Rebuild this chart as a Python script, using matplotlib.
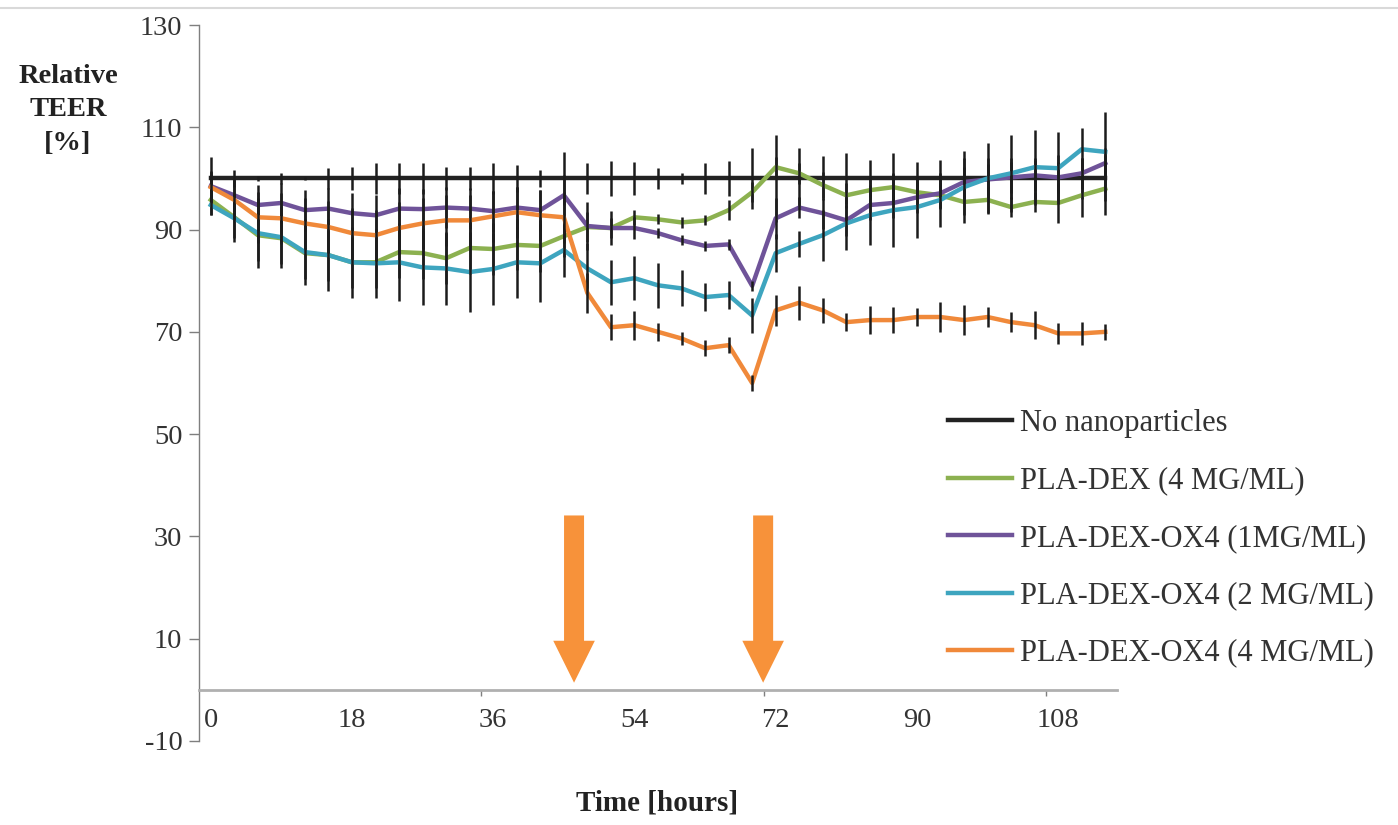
import matplotlib
matplotlib.use("Agg")
import matplotlib.pyplot as plt
from matplotlib.lines import Line2D

plt.rcParams['font.family'] = ['Liberation Serif', 'DejaVu Serif']

# ---------------- data ----------------
hours = [0, 3, 6, 9, 12, 15, 18, 21, 24, 27, 30, 33, 36, 39, 42, 45, 48, 51, 54, 57,
         60, 63, 66, 69, 72, 75, 78, 81, 84, 87, 90, 93, 96, 99, 102, 105, 108, 111, 114]

no_np = [100, 100, 100, 100, 100, 100, 100, 100, 100, 100, 100, 100, 100, 100, 100, 100,
         100, 100, 100, 100, 100, 100, 100, 100, 100, 100, 100, 100, 100, 100, 100, 100,
         100, 100, 100, 100, 100, 100, 100]
no_np_err = [4.2, 1.6, 0.5, 1.0, 0.3, 2.0, 2.2, 3.0, 3.0, 3.0, 2.2, 2.2, 3.0, 2.6, 1.6, 5.2,
             3.0, 3.5, 3.3, 2.0, 1.0, 3.0, 3.5, 6.0, 8.5, 6.0, 4.3, 5.0, 3.6, 5.0, 3.2, 3.6,
             4.0, 4.0, 4.0, 4.0, 4.5, 4.0, 4.5]

pla_dex_4 = [95.8, 92.4, 88.9, 88.3, 85.4, 85.0, 83.6, 83.6, 85.6, 85.4, 84.4, 86.4, 86.2,
             87.0, 86.8, 88.7, 90.5, 90.3, 92.4, 92.0, 91.4, 91.8, 93.8, 97.3, 102.2, 101.0,
             98.7, 96.7, 97.7, 98.3, 97.3, 96.7, 95.4, 95.8, 94.4, 95.4, 95.2, 96.7, 98.0]
pla_dex_4_err = [3.0, 4.0, 5.0, 5.0, 5.0, 5.0, 5.0, 5.0, 5.0, 5.0, 5.0, 5.0, 5.0, 5.0, 5.0,
                 4.0, 3.0, 2.0, 1.5, 1.0, 1.0, 1.0, 2.0, 2.0, 2.0, 2.0, 2.5, 2.5, 2.5, 2.5,
                 2.5, 2.5, 2.5, 2.5, 2.0, 2.0, 4.0, 4.3, 5.2]

ox4_1 = [98.5, 96.7, 94.8, 95.2, 93.8, 94.1, 93.2, 92.8, 94.1, 94.0, 94.3, 94.1, 93.6,
         94.3, 93.8, 96.7, 90.7, 90.3, 90.3, 89.3, 87.9, 86.8, 87.1, 79.0, 92.2, 94.3,
         93.2, 91.8, 94.8, 95.2, 96.3, 97.1, 99.3, 99.8, 100.2, 100.6, 100.2, 101.0, 103.0]
ox4_1_err = [3.0, 3.0, 4.0, 4.0, 4.0, 4.0, 4.0, 4.0, 4.0, 4.0, 4.0, 4.0, 4.0, 4.0, 4.0,
             4.0, 4.7, 3.3, 2.2, 1.0, 1.0, 1.0, 1.0, 1.0, 4.0, 2.0, 3.0, 3.0, 3.0, 3.0,
             3.0, 3.0, 3.0, 3.0, 3.0, 3.0, 3.0, 3.0, 3.0]

ox4_2 = [94.8, 92.2, 89.3, 88.5, 85.6, 85.0, 83.6, 83.4, 83.6, 82.6, 82.4, 81.7, 82.3,
         83.6, 83.4, 86.0, 82.4, 79.7, 80.5, 79.1, 78.5, 76.8, 77.2, 73.2, 85.4, 87.2,
         88.9, 91.2, 92.8, 93.8, 94.4, 95.8, 98.3, 100.0, 101.0, 102.2, 102.0, 105.7, 105.2]
ox4_2_err = [2.0, 4.7, 6.9, 6.1, 6.5, 7.0, 7.0, 6.8, 7.6, 7.4, 7.2, 7.9, 7.1, 7.0, 7.6,
             5.3, 5.0, 4.4, 4.3, 4.4, 3.5, 2.8, 2.8, 3.5, 3.7, 2.6, 5.0, 5.2, 5.9, 7.2,
             6.1, 5.3, 7.0, 7.0, 7.5, 7.3, 7.0, 4.1, 7.8]

ox4_4 = [98.3, 95.8, 92.4, 92.2, 91.2, 90.5, 89.3, 88.9, 90.3, 91.2, 91.8, 91.8, 92.6,
         93.4, 92.8, 92.4, 77.6, 70.9, 71.3, 70.0, 68.7, 66.8, 67.4, 60.0, 74.2, 75.7,
         74.2, 71.9, 72.3, 72.3, 72.9, 72.9, 72.3, 72.9, 71.9, 71.3, 69.7, 69.7, 70.0]
ox4_4_err = [3.0, 4.0, 5.0, 5.0, 5.0, 5.0, 5.0, 5.0, 5.0, 5.0, 5.0, 5.0, 5.0, 5.0, 5.0,
             5.0, 4.0, 2.5, 2.8, 1.7, 1.3, 1.6, 1.5, 1.5, 3.0, 3.3, 2.5, 1.8, 2.7, 2.5,
             1.8, 3.0, 3.0, 2.0, 2.0, 2.7, 2.0, 2.2, 1.5]

labels = ["No nanoparticles", "PLA-DEX (4 MG/ML)", "PLA-DEX-OX4 (1MG/ML)",
          "PLA-DEX-OX4 (2 MG/ML)", "PLA-DEX-OX4 (4 MG/ML)"]
colors = ["#222222", "#8cb150", "#6f5399", "#3ea5bf", "#f0893a"]

xtick_values = [0, 18, 36, 54, 72, 90, 108]
ytick_values = [-10, 10, 30, 50, 70, 90, 110, 130]
arrow_times = [46.3, 70.4]

# ---------------- figure ----------------
W, H = 1398, 825
fig = plt.figure(figsize=(W / 100, H / 100), dpi=100)
ax = fig.add_axes([199 / W, 1 - 741 / H, (1117 - 199) / W, (741 - 25) / H])

series = [(no_np, no_np_err), (pla_dex_4, pla_dex_4_err), (ox4_1, ox4_1_err),
          (ox4_2, ox4_2_err), (ox4_4, ox4_4_err)]
handles = []
for i, ((vals, err), lab, col) in enumerate(zip(series, labels, colors)):
    ln, = ax.plot(hours, vals, color=col, lw=3.2, label=lab, zorder=3 + 2 * i,
                  solid_joinstyle='round')
    ax.errorbar(hours, vals, yerr=err, fmt='none', ecolor='#1c1c1c', elinewidth=1.8,
                capsize=0, zorder=4 + 2 * i)
    handles.append(ln)

# arrows
for t in arrow_times:
    ax.arrow(t, 34.1, 0, -32.7, width=2.55, head_width=5.3, head_length=8.2,
             length_includes_head=True, color='#f7923a', ec='none', zorder=20)

ax.set_xlim(-1.5, 115.5)
ax.set_ylim(-10, 130)

for s in ['top', 'right']:
    ax.spines[s].set_visible(False)
ax.spines['left'].set_color('#7f7f7f')
ax.spines['left'].set_linewidth(1.0)
ax.spines['bottom'].set_position(('data', 0))
ax.spines['bottom'].set_color('#b0b0b0')
ax.spines['bottom'].set_linewidth(2.0)

ax.set_yticks(ytick_values)
ax.set_yticklabels([str(v) for v in ytick_values])
ax.set_xticks(xtick_values)
ax.set_xticklabels([str(v) for v in xtick_values])
ax.set_xticks([34.5, 70.5, 106.5], minor=True)
ax.tick_params(axis='y', direction='out', length=7, width=1.0, color='#7f7f7f',
               labelsize=20.5, labelcolor='#333333', pad=5)
ax.tick_params(axis='x', which='major', length=0, labelsize=20.5, labelcolor='#333333', pad=13)
ax.tick_params(axis='x', which='minor', direction='out', length=4, width=1.0, color='#7f7f7f')

fig.text(68 / W, 1 - 110 / H, "Relative\nTEER\n[%]", ha='center', va='center',
         fontsize=20.5, fontweight='bold', linespacing=1.45, color='#222222')
fig.text(657 / W, 1 - 803 / H, "Time [hours]", ha='center', va='center',
         fontsize=21, fontweight='bold', color='#222222')

fig.legend(handles=handles, labels=labels, loc='upper left',
           bbox_to_anchor=(948 / W, 1 - 409 / H), frameon=False, fontsize=22,
           handlelength=2.1, handletextpad=0.25, labelspacing=0.93, borderpad=0,
           borderaxespad=0, labelcolor='#333333')

fig.add_artist(Line2D([0, 1], [1 - 8 / H, 1 - 8 / H], color='#d9d9d9', lw=1.5))

fig.savefig("out.png", dpi=100, facecolor='white')
